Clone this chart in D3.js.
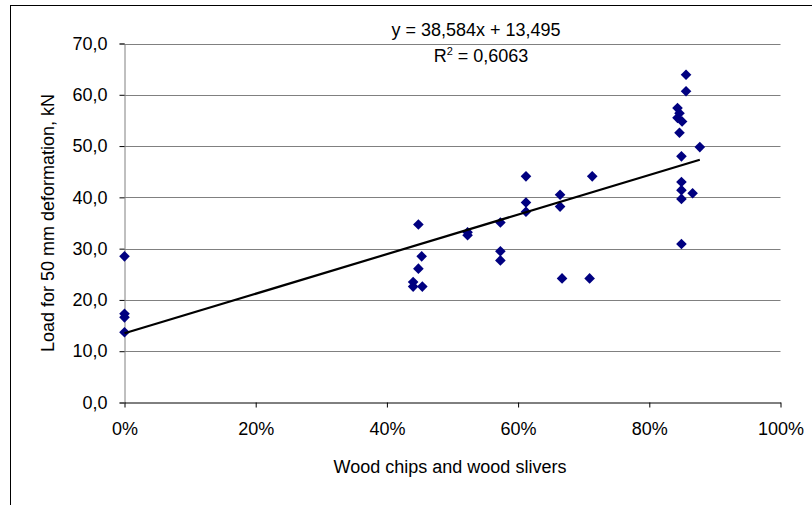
<!DOCTYPE html>
<html>
<head>
<meta charset="utf-8">
<script src="https://cdn.jsdelivr.net/npm/d3@7"></script>
<style>
  html, body { margin: 0; padding: 0; background: #fff; }
  svg { display: block; font-family: "Liberation Sans", Arial, sans-serif; }
</style>
</head>
<body>
<svg id="chart" width="812" height="505"></svg>
<script>
// Share of wood chips and slivers (fraction) and the load at 50 mm deformation (kN)
const shareWood = [
  0, 0, 0, 0,
  0.448, 0.453, 0.448, 0.440, 0.440, 0.454,
  0.523, 0.523,
  0.573, 0.573, 0.573,
  0.612, 0.612, 0.612,
  0.664, 0.664, 0.667,
  0.713, 0.709,
  0.856, 0.856, 0.843, 0.846, 0.843, 0.850, 0.846, 0.877, 0.849, 0.849, 0.849, 0.866, 0.849, 0.849
];
const loadKN = [
  28.5, 17.3, 16.6, 13.7,
  34.7, 28.5, 26.1, 23.5, 22.6, 22.6,
  33.2, 32.6,
  35.1, 29.5, 27.7,
  44.1, 39.0, 37.2,
  40.5, 38.2, 24.2,
  44.1, 24.2,
  63.9, 60.7, 57.4, 56.4, 55.5, 54.8, 52.6, 49.8, 48.0, 43.0, 41.4, 40.8, 39.7, 30.9
];

// Linear trend line coefficients
const slope = 38.584;
const intercept = 13.495;
const rSquared = "0,6063";

const xTicks = [0, 0.2, 0.4, 0.6, 0.8, 1.0];
const yTicks = [0, 10, 20, 30, 40, 50, 60, 70];

const svg = d3.select("#chart");
const plotLeft = 124.5, plotRight = 780.5, plotTop = 43.5, plotBottom = 402.5;
const fontSize = 18;

const x = d3.scaleLinear().domain([0, 1]).range([plotLeft, plotRight]);
const y = d3.scaleLinear().domain([0, 70]).range([plotBottom, plotTop]);

const fmtY = v => d3.format(".1f")(v).replace(".", ",");
const fmtX = v => Math.round(v * 100) + "%";

// Outer frame
svg.append("rect")
  .attr("x", 10.5).attr("y", 5.5)
  .attr("width", 900).attr("height", 700)
  .attr("fill", "none").attr("stroke", "#000").attr("stroke-width", 1);

// Horizontal gridlines
svg.append("g")
  .selectAll("line")
  .data(yTicks.filter(d => d > 0))
  .join("line")
  .attr("x1", plotLeft).attr("x2", plotRight)
  .attr("y1", d => Math.round(y(d)) + 0.5).attr("y2", d => Math.round(y(d)) + 0.5)
  .attr("stroke", "#808080").attr("stroke-width", 1);

// Y axis
const yAxis = svg.append("g")
  .attr("transform", `translate(${plotLeft},0)`)
  .call(d3.axisLeft(y).tickValues(yTicks).tickFormat(fmtY).tickSize(5).tickPadding(12));
yAxis.select(".domain").attr("stroke", "#808080");
yAxis.selectAll(".tick line").attr("stroke", "#000");
yAxis.selectAll("text").attr("font-size", fontSize).attr("fill", "#000")
  .attr("font-family", "Liberation Sans, Arial, sans-serif");

// X axis
const xAxis = svg.append("g")
  .attr("transform", `translate(0,${plotBottom})`)
  .call(d3.axisBottom(x).tickValues(xTicks).tickFormat(fmtX).tickSize(5).tickSizeOuter(0).tickPadding(15));
xAxis.select(".domain").attr("stroke", "#000");
xAxis.selectAll(".tick line").attr("stroke", "#000");
xAxis.selectAll("text").attr("font-size", fontSize).attr("fill", "#000")
  .attr("font-family", "Liberation Sans, Arial, sans-serif");

// Data points as diamonds
const diamond = d3.symbol().type(d3.symbolDiamond2).size(72);
svg.append("g")
  .selectAll("path")
  .data(shareWood.map((s, i) => [s, loadKN[i]]))
  .join("path")
  .attr("d", diamond)
  .attr("transform", d => `translate(${x(d[0])},${y(d[1])})`)
  .attr("fill", "#000080");

// Trend line over the observed range
const xMax = d3.max(shareWood);
svg.append("line")
  .attr("x1", x(0)).attr("y1", y(intercept))
  .attr("x2", x(xMax)).attr("y2", y(intercept + slope * xMax))
  .attr("stroke", "#000").attr("stroke-width", 2.2);

// Regression equation
svg.append("text")
  .attr("x", 476).attr("y", 36)
  .attr("text-anchor", "middle").attr("font-size", fontSize)
  .text("y = 38,584x + 13,495");
const r2 = svg.append("text")
  .attr("x", 481).attr("y", 62)
  .attr("text-anchor", "middle").attr("font-size", fontSize);
r2.append("tspan").text("R");
r2.append("tspan").attr("dy", -7).attr("font-size", 11).text("2");
r2.append("tspan").attr("dy", 7).text(" = " + rSquared);

// Axis titles
svg.append("text")
  .attr("x", 450).attr("y", 473)
  .attr("text-anchor", "middle").attr("font-size", fontSize)
  .text("Wood chips and wood slivers");
svg.append("text")
  .attr("transform", "translate(54,223) rotate(-90)")
  .attr("text-anchor", "middle").attr("font-size", fontSize)
  .text("Load for 50 mm deformation, kN");
</script>
</body>
</html>
